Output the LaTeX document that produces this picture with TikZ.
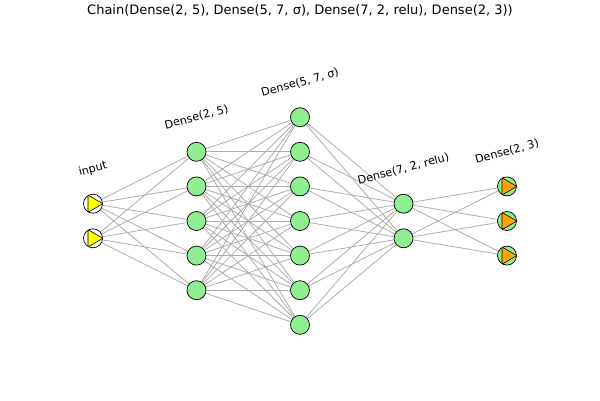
\documentclass[tikz,border=0pt]{standalone}
\usepackage{fontspec}
\setmainfont{DejaVu Sans}
\usepackage{tikz}
\usetikzlibrary{shapes}
\usetikzlibrary{backgrounds}
\definecolor{vert}{HTML}{90EE90}
\definecolor{jaune}{HTML}{FFFF00}
\definecolor{orange}{HTML}{FFA500}
\tikzstyle{neurone}=[circle,draw=black,line width=0.7pt,fill=vert,
        minimum size=19pt,inner sep=0pt]
\tikzstyle{entree}=[neurone,fill=white,
        path picture={\filldraw[fill=jaune,draw=black,line width=0.6pt]
        (path picture bounding box.center) ++(-5pt,8.6pt) -- ++(0,-17.2pt)
        -- ++(14.9pt,8.6pt) -- cycle;}]
\tikzstyle{sortie}=[neurone,
        path picture={\filldraw[fill=orange,draw=black,line width=0.6pt]
        (path picture bounding box.center) ++(-5pt,8.6pt) -- ++(0,-17.2pt)
        -- ++(14.9pt,8.6pt) -- cycle;}]
\tikzstyle{couche}=[rotate=15,font=\fontsize{11.2}{13}\selectfont]
\tikzstyle{lien}=[draw=black!32,line width=0.8pt]

\begin{document}
\begin{tikzpicture}[x=103.5pt,y=34.6pt]
\useasboundingbox (-300pt,-179pt) rectangle (300pt,221pt);
\node[font=\fontsize{13}{15}\selectfont] (titre) at (0pt,211pt)
  {Chain(Dense(2, 5), Dense(5, 7, σ), Dense(7, 2, relu), Dense(2, 3))};
%entree
\node[entree] (e1) at (-2,0.5) {};
\node[entree] (e2) at (-2,-0.5) {};
%Dense(2, 5)
\node[neurone] (a1) at (-1,2) {};
\node[neurone] (a2) at (-1,1) {};
\node[neurone] (a3) at (-1,0) {};
\node[neurone] (a4) at (-1,-1) {};
\node[neurone] (a5) at (-1,-2) {};
%Dense(5, 7, sigma)
\node[neurone] (b1) at (0,3) {};
\node[neurone] (b2) at (0,2) {};
\node[neurone] (b3) at (0,1) {};
\node[neurone] (b4) at (0,0) {};
\node[neurone] (b5) at (0,-1) {};
\node[neurone] (b6) at (0,-2) {};
\node[neurone] (b7) at (0,-3) {};
%Dense(7, 2, relu)
\node[neurone] (c1) at (1,0.5) {};
\node[neurone] (c2) at (1,-0.5) {};
%Dense(2, 3)
\node[sortie] (d1) at (2,1) {};
\node[sortie] (d2) at (2,0) {};
\node[sortie] (d3) at (2,-1) {};
%Etiquettes
\node[couche] (le) at (-2,1.5) {input};
\node[couche] (la) at (-1,3) {Dense(2, 5)};
\node[couche] (lb) at (0,4) {Dense(5, 7, σ)};
\node[couche] (lc) at (1,1.5) {Dense(7, 2, relu)};
\node[couche] (ld) at (2,2) {Dense(2, 3)};
%Placement des liens
\begin{pgfonlayer}{background}
\foreach \i in {1,2} \foreach \j in {1,...,5} \draw[lien] (e\i) -- (a\j);
\foreach \i in {1,...,5} \foreach \j in {1,...,7} \draw[lien] (a\i) -- (b\j);
\foreach \i in {1,...,7} \foreach \j in {1,2} \draw[lien] (b\i) -- (c\j);
\foreach \i in {1,2} \foreach \j in {1,2,3} \draw[lien] (c\i) -- (d\j);
\end{pgfonlayer}

\end{tikzpicture}
\end{document}
